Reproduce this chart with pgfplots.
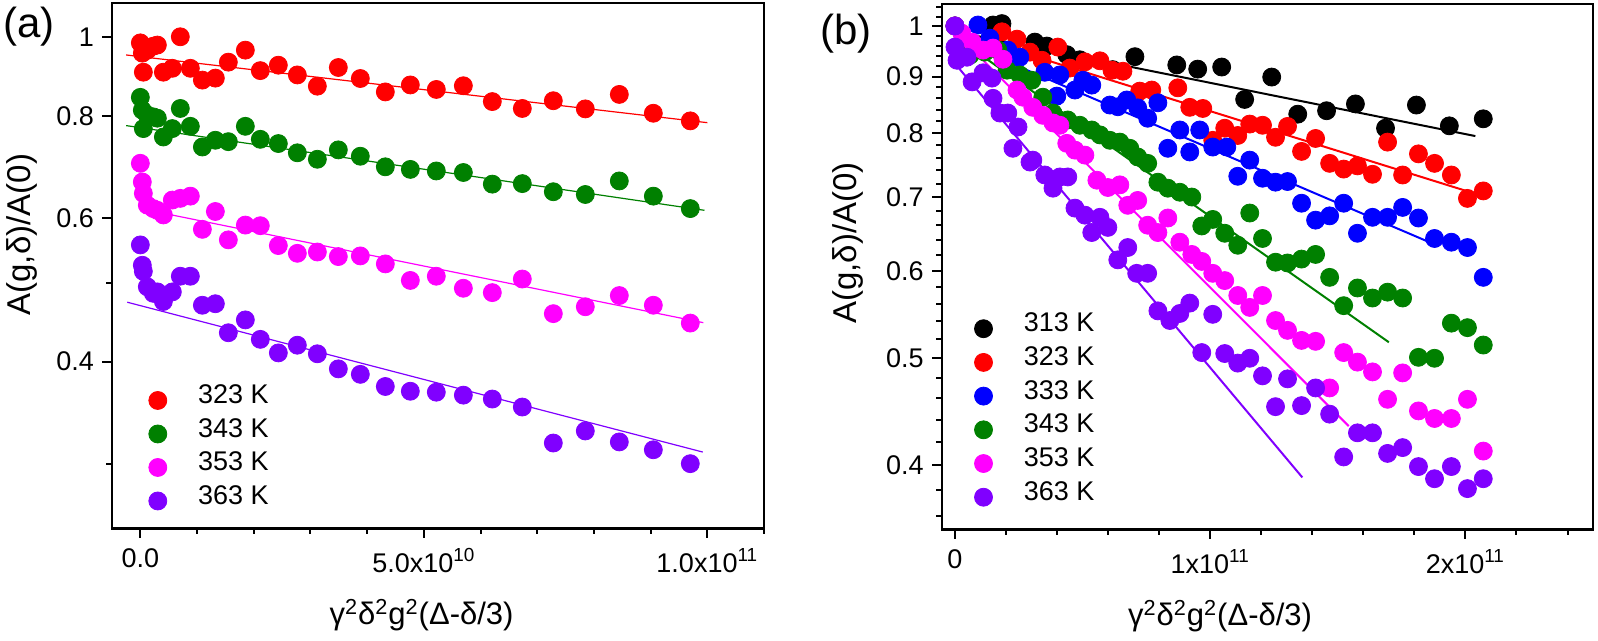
\documentclass[border=0pt]{standalone}
\usepackage{fontspec}
\setmainfont{Liberation Sans}
\usepackage{pgfplots}
\pgfplotsset{compat=1.18}
\usepackage{pgfplotstable}
\definecolor{cRed}{RGB}{255,0,0}
\definecolor{cGreen}{RGB}{0,128,0}
\definecolor{cMag}{RGB}{255,0,255}
\definecolor{cViol}{RGB}{128,0,255}
\definecolor{cBlue}{RGB}{0,0,255}
\definecolor{cBlack}{RGB}{0,0,0}
\newcommand\tf{\fontsize{13.5}{15.5}\selectfont}
\newcommand\lf{\fontsize{13.5}{15.5}\selectfont}
\newcommand\xl{γ\textsuperscript{2}δ\textsuperscript{2}g\textsuperscript{2}(Δ-δ/3)}

% panel (a): shared x, columns r=323K, g=343K, m=353K, v=363K
\pgfplotstableread{
x r g m v
0 0.983 0.843 0.700 0.556
0.035e10 0.955 0.813 0.664 0.525
0.053e10 0.905 0.772 0.643 0.516
0.123e10 0.963 0.802 0.622 0.494
0.229e10 0.974 0.798 0.616 0.485
0.300e10 0.977 0.795 0.613 0.487
0.406e10 0.905 0.754 0.605 0.474
0.564e10 0.915 0.772 0.631 0.487
0.705e10 1.000 0.817 0.634 0.509
0.882e10 0.915 0.777 0.638 0.509
1.094e10 0.885 0.733 0.581 0.469
1.323e10 0.890 0.747 0.611 0.471
1.552e10 0.931 0.744 0.564 0.434
1.852e10 0.963 0.777 0.588 0.450
2.116e10 0.909 0.749 0.587 0.426
2.434e10 0.923 0.740 0.555 0.410
2.769e10 0.898 0.721 0.543 0.419
3.122e10 0.870 0.708 0.545 0.409
3.492e10 0.917 0.727 0.538 0.392
3.880e10 0.889 0.714 0.539 0.386
4.321e10 0.856 0.693 0.527 0.373
4.762e10 0.873 0.688 0.503 0.368
5.220e10 0.862 0.685 0.509 0.367
5.697e10 0.871 0.682 0.492 0.364
6.208e10 0.833 0.660 0.486 0.360
6.737e10 0.817 0.661 0.505 0.352
7.284e10 0.835 0.646 0.458 0.318
7.848e10 0.816 0.641 0.467 0.329
8.448e10 0.850 0.666 0.482 0.319
9.048e10 0.806 0.638 0.469 0.312
9.700e10 0.789 0.616 0.446 0.300
}\tabA

% panel (b)
\pgfplotstableread{
x y
0 1.000
0.149e11 1.002
0.184e11 1.005
0.313e11 0.967
0.360e11 0.959
0.438e11 0.942
0.489e11 0.932
0.618e11 0.913
0.705e11 0.938
0.869e11 0.922
0.951e11 0.914
1.045e11 0.918
1.135e11 0.858
1.241e11 0.899
1.343e11 0.832
1.456e11 0.838
1.569e11 0.850
1.687e11 0.808
1.808e11 0.848
1.937e11 0.812
2.070e11 0.824
}\tabBk

\pgfplotstableread{
x y
0 1.000
0.184e11 0.988
0.243e11 0.973
0.294e11 0.947
0.341e11 0.931
0.403e11 0.957
0.450e11 0.916
0.509e11 0.928
0.568e11 0.930
0.615e11 0.912
0.658e11 0.910
0.724e11 0.873
0.771e11 0.875
0.873e11 0.879
0.920e11 0.844
0.971e11 0.842
1.010e11 0.788
1.057e11 0.808
1.108e11 0.796
1.155e11 0.815
1.205e11 0.813
1.256e11 0.793
1.303e11 0.811
1.358e11 0.770
1.413e11 0.791
1.468e11 0.751
1.523e11 0.742
1.577e11 0.747
1.636e11 0.734
1.695e11 0.785
1.754e11 0.733
1.816e11 0.766
1.879e11 0.751
1.945e11 0.733
2.008e11 0.698
2.070e11 0.709
}\tabBr

\pgfplotstableread{
x y
0 1.000
0.090e11 1.002
0.137e11 0.975
0.207e11 0.951
0.254e11 0.937
0.352e11 0.908
0.399e11 0.864
0.411e11 0.903
0.470e11 0.875
0.501e11 0.893
0.536e11 0.884
0.607e11 0.848
0.638e11 0.845
0.673e11 0.857
0.716e11 0.843
0.755e11 0.825
0.795e11 0.852
0.834e11 0.775
0.881e11 0.805
0.920e11 0.769
0.959e11 0.805
1.010e11 0.777
1.065e11 0.777
1.108e11 0.731
1.155e11 0.756
1.205e11 0.728
1.256e11 0.722
1.303e11 0.723
1.358e11 0.691
1.413e11 0.667
1.468e11 0.673
1.523e11 0.691
1.577e11 0.649
1.636e11 0.671
1.695e11 0.671
1.754e11 0.685
1.816e11 0.670
1.879e11 0.642
1.945e11 0.637
2.008e11 0.630
2.070e11 0.592
}\tabBb

\pgfplotstableread{
x y
0 1.000
0.027e11 0.967
0.059e11 0.941
0.117e11 0.947
0.168e11 0.951
0.204e11 0.912
0.254e11 0.903
0.301e11 0.893
0.344e11 0.862
0.384e11 0.834
0.442e11 0.822
0.489e11 0.813
0.536e11 0.805
0.568e11 0.797
0.607e11 0.788
0.646e11 0.785
0.685e11 0.775
0.716e11 0.761
0.755e11 0.751
0.795e11 0.722
0.834e11 0.713
0.881e11 0.707
0.928e11 0.700
0.967e11 0.659
1.010e11 0.668
1.057e11 0.649
1.108e11 0.633
1.155e11 0.677
1.205e11 0.642
1.256e11 0.611
1.303e11 0.610
1.358e11 0.615
1.413e11 0.621
1.468e11 0.592
1.523e11 0.558
1.577e11 0.579
1.636e11 0.567
1.695e11 0.574
1.754e11 0.567
1.816e11 0.501
1.879e11 0.500
1.945e11 0.538
2.008e11 0.533
2.070e11 0.514
}\tabBg

\pgfplotstableread{
x y
0 1.000
0.027e11 0.985
0.067e11 0.967
0.110e11 0.951
0.149e11 0.955
0.188e11 0.933
0.243e11 0.875
0.266e11 0.862
0.305e11 0.844
0.344e11 0.830
0.384e11 0.817
0.411e11 0.813
0.438e11 0.783
0.470e11 0.772
0.509e11 0.764
0.556e11 0.725
0.599e11 0.714
0.646e11 0.718
0.677e11 0.688
0.716e11 0.695
0.755e11 0.660
0.795e11 0.650
0.834e11 0.670
0.881e11 0.637
0.928e11 0.621
0.967e11 0.612
1.010e11 0.597
1.057e11 0.588
1.108e11 0.570
1.155e11 0.556
1.205e11 0.570
1.256e11 0.541
1.303e11 0.530
1.358e11 0.519
1.413e11 0.518
1.468e11 0.470
1.523e11 0.506
1.577e11 0.496
1.636e11 0.486
1.695e11 0.459
1.754e11 0.485
1.816e11 0.448
1.879e11 0.441
1.945e11 0.441
2.008e11 0.459
2.070e11 0.412
}\tabBm

\pgfplotstableread{
x y
0 1.000
0 0.957
0.008e11 0.931
0.047e11 0.937
0.067e11 0.890
0.110e11 0.907
0.145e11 0.897
0.149e11 0.860
0.176e11 0.834
0.207e11 0.834
0.247e11 0.810
0.227e11 0.775
0.294e11 0.753
0.305e11 0.756
0.352e11 0.733
0.384e11 0.713
0.411e11 0.730
0.442e11 0.730
0.470e11 0.684
0.509e11 0.674
0.536e11 0.650
0.568e11 0.671
0.599e11 0.657
0.638e11 0.614
0.677e11 0.630
0.712e11 0.597
0.755e11 0.597
0.795e11 0.552
0.842e11 0.541
0.881e11 0.549
0.920e11 0.561
0.967e11 0.506
1.010e11 0.548
1.057e11 0.505
1.108e11 0.495
1.155e11 0.500
1.205e11 0.482
1.256e11 0.452
1.303e11 0.479
1.358e11 0.453
1.413e11 0.470
1.468e11 0.445
1.523e11 0.407
1.577e11 0.428
1.636e11 0.428
1.695e11 0.410
1.754e11 0.415
1.816e11 0.399
1.879e11 0.389
1.945e11 0.399
2.008e11 0.381
2.070e11 0.389
}\tabBv

\pgfplotsset{
  dot/.style={only marks, mark=*, mark size=4.5pt, mark options={draw=none},
    legend image code/.code={\path (-5pt,0pt) (20pt,0pt);
      \fill[##1] (0pt,0pt) circle (4.5pt);}},
  myax/.style={
    scale only axis,
    scaled x ticks=false, scaled y ticks=false,
    tick pos=left, tick align=inside,
    major tick length=-5pt, minor tick length=-3pt,
    every tick/.style={black, line width=1pt},
    axis line style={line width=1.2pt},
    tick label style={font=\tf},
    xticklabel style={inner sep=0pt, yshift=-10pt},
    yticklabel style={inner sep=0pt, xshift=-8.8pt},
    label style={font=\fontsize{16.5}{19}\selectfont},
    xlabel style={font=\fontsize{15.5}{18}\selectfont},
    legend cell align=left,
    legend style={draw=none, fill=none, inner sep=0pt, anchor=north west,
      font=\lf,
      nodes={inner sep=0pt, text height=10pt, text depth=6.75pt}},
  },
}

\begin{document}
\begin{tikzpicture}
\useasboundingbox (0,0) rectangle (799pt,320.5pt);
\node[font=\fontsize{21}{25}\selectfont] at (14.5pt,307.2pt) {(a)};
\node[font=\fontsize{21}{25}\selectfont] at (423pt,303.5pt) {(b)};

\begin{axis}[ymode=log, myax,
  at={(56pt,56.35pt)}, anchor=south west,
  width=326pt, height=262.65pt,
  xmin=-0.5e10, xmax=1.1e11, ymin=0.25, ymax=1.1,
  xtick={0,5e10,1e11},
  xticklabels={\tf 0.0,\tf 5.0x10\textsuperscript{10},\tf 1.0x10\textsuperscript{11}},
  minor xtick={1e10,2e10,3e10,4e10,6e10,7e10,8e10,9e10,1.1e11},
  ytick={0.4,0.6,0.8,1}, yticklabels={\tf 0.4,\tf 0.6,\tf 0.8,\tf 1},
  minor ytick={0.3,0.5},
  xlabel={\xl},
  ylabel={A(g,δ)/A(0)},
  xlabel style={at={(axis description cs:0.4747,-0.165)}, anchor=center},
  ylabel style={at={(axis description cs:-0.138,0.559)}, anchor=center},
  legend style={at={(axis description cs:0.0537,0.276)}},
]
\addplot[dot, cRed] table[x=x,y=r] {\tabA}; \addlegendentry{\lf 323 K}
\addplot[dot, cGreen] table[x=x,y=g] {\tabA}; \addlegendentry{\lf 343 K}
\addplot[dot, cMag] table[x=x,y=m] {\tabA}; \addlegendentry{\lf 353 K}
\addplot[dot, cViol] table[x=x,y=v] {\tabA}; \addlegendentry{\lf 363 K}
\addplot[cRed, line width=0.6pt, forget plot] coordinates {(-0.25e10,0.950) (1.0e11,0.785)};
\addplot[cGreen, line width=0.6pt, forget plot] coordinates {(-0.25e10,0.7785) (9.95e10,0.613)};
\addplot[cMag, line width=0.6pt, forget plot] coordinates {(0,0.616) (9.93e10,0.4465)};
\addplot[cViol, line width=0.6pt, forget plot] coordinates {(-0.23e10,0.473) (9.92e10,0.310)};
\end{axis}

\begin{axis}[ymode=log, myax,
  at={(470.85pt,55.85pt)}, anchor=south west,
  width=325.65pt, height=262.65pt,
  xmin=-0.052e11, xmax=2.5e11, ymin=0.35, ymax=1.047,
  xtick={0,1e11,2e11},
  xticklabels={\tf 0,\tf 1x10\textsuperscript{11},\tf 2x10\textsuperscript{11}},
  minor xtick={0.2e11,0.4e11,0.6e11,0.8e11,1.2e11,1.4e11,1.6e11,1.8e11,2.2e11,2.4e11},
  ytick={0.4,0.5,0.6,0.7,0.8,0.9,1}, yticklabels={\tf 0.4,\tf 0.5,\tf 0.6,\tf 0.7,\tf 0.8,\tf 0.9,\tf 1},
  minor ytick={0.36,0.38,0.42,0.44,0.46,0.48,0.52,0.54,0.56,0.58,0.62,0.64,0.66,0.68,0.72,0.74,0.76,0.78,0.82,0.84,0.86,0.88,0.92,0.94,0.96,0.98,1.02,1.04},
  xlabel={\xl},
  ylabel={A(g,δ)/A(0)},
  xlabel style={at={(axis description cs:0.4273,-0.165)}, anchor=center},
  ylabel style={at={(axis description cs:-0.1446,0.545)}, anchor=center},
  legend style={at={(axis description cs:0.0476,0.4147)},
    nodes={inner sep=0pt, text height=10pt, text depth=6.85pt}},
]
\addplot[dot, cBlack] table {\tabBk}; \addlegendentry{\lf 313 K}
\addplot[dot, cRed] table {\tabBr}; \addlegendentry{\lf 323 K}
\addplot[dot, cBlue] table {\tabBb}; \addlegendentry{\lf 333 K}
\addplot[dot, cGreen] table {\tabBg}; \addlegendentry{\lf 343 K}
\addplot[dot, cMag] table {\tabBm}; \addlegendentry{\lf 353 K}
\addplot[dot, cViol] table {\tabBv}; \addlegendentry{\lf 363 K}
\addplot[cBlack, line width=1pt, forget plot] coordinates {(0.033e11,0.985) (2.039e11,0.795)};
\addplot[cRed, line width=1pt, forget plot] coordinates {(0.033e11,0.983) (2.003e11,0.709)};
\addplot[cBlue, line width=1pt, forget plot] coordinates {(0.007e11,0.971) (1.859e11,0.637)};
\addplot[cGreen, line width=1pt, forget plot] coordinates {(0.008e11,0.975) (1.700e11,0.517)};
\addplot[cMag, line width=1pt, forget plot] coordinates {(0.031e11,0.971) (1.543e11,0.434)};
\addplot[cViol, line width=1pt, forget plot] coordinates {(0.008e11,0.920) (1.361e11,0.390)};
\end{axis}
\end{tikzpicture}
\end{document}
